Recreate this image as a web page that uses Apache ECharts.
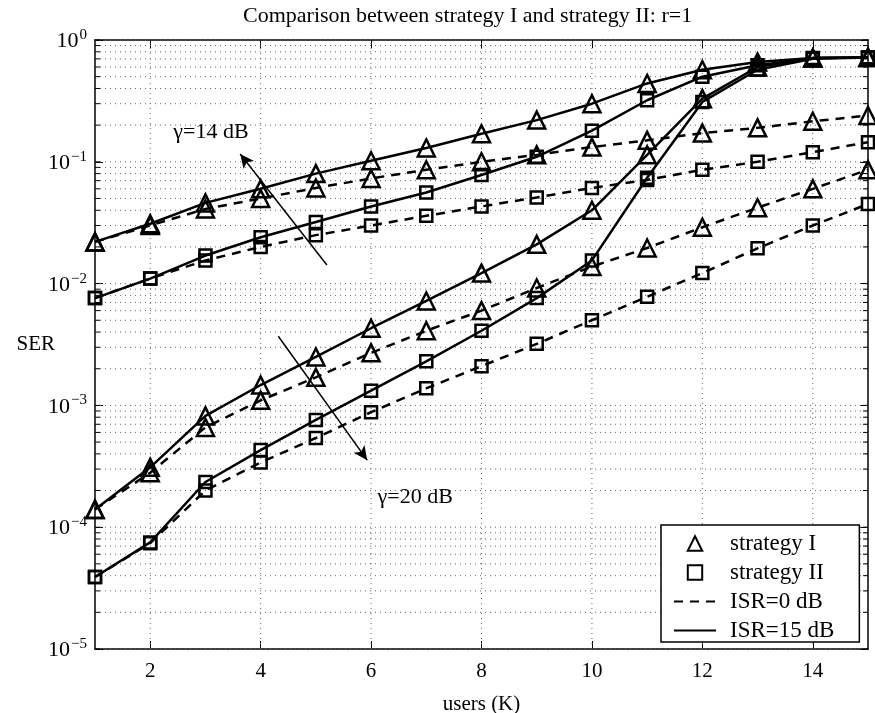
<!DOCTYPE html>
<html>
<head>
<meta charset="utf-8">
<script src="https://cdn.jsdelivr.net/npm/echarts@6/dist/echarts.min.js"></script>
<style>
html, body { margin: 0; padding: 0; background: #fff; }
#main { width: 875px; height: 713px; }
</style>
</head>
<body>
<div id="main"></div>
<script>
var users = [1, 2, 3, 4, 5, 6, 7, 8, 9, 10, 11, 12, 13, 14, 15];
var xTicks = [2, 4, 6, 8, 10, 12, 14];

// gamma = 14 dB
var s1g14isr15 = [0.022, 0.031, 0.046, 0.060, 0.080, 0.102, 0.130, 0.170, 0.220, 0.300, 0.44, 0.57, 0.66, 0.71, 0.72];
var s1g14isr0  = [0.022, 0.030, 0.041, 0.050, 0.061, 0.073, 0.086, 0.100, 0.114, 0.132, 0.150, 0.172, 0.190, 0.215, 0.240];
var s2g14isr15 = [0.0076, 0.011, 0.017, 0.024, 0.032, 0.043, 0.056, 0.078, 0.110, 0.180, 0.32, 0.50, 0.62, 0.71, 0.72];
var s2g14isr0  = [0.0076, 0.011, 0.0155, 0.020, 0.025, 0.030, 0.036, 0.043, 0.051, 0.061, 0.071, 0.086, 0.100, 0.120, 0.145];
// gamma = 20 dB
var s1g20isr15 = [1.4e-4, 3.1e-4, 8.2e-4, 1.47e-3, 2.5e-3, 4.3e-3, 7.2e-3, 0.0122, 0.021, 0.040, 0.114, 0.33, 0.60, 0.71, 0.72];
var s1g20isr0  = [1.4e-4, 2.8e-4, 6.6e-4, 1.1e-3, 1.7e-3, 2.7e-3, 4.1e-3, 6.0e-3, 9.2e-3, 0.0138, 0.0196, 0.029, 0.042, 0.060, 0.086];
var s2g20isr15 = [3.9e-5, 7.5e-5, 2.35e-4, 4.3e-4, 7.6e-4, 1.32e-3, 2.3e-3, 4.1e-3, 7.6e-3, 0.0155, 0.074, 0.31, 0.57, 0.70, 0.72];
var s2g20isr0  = [3.9e-5, 7.4e-5, 2.0e-4, 3.4e-4, 5.4e-4, 8.8e-4, 1.38e-3, 2.1e-3, 3.2e-3, 5.0e-3, 7.8e-3, 0.0122, 0.0195, 0.030, 0.045];

// annotation arrows, in data coords [tail, head]
var arrow14 = [[5.2, 0.0142], [3.63, 0.116]];
var arrow20 = [[4.32, 0.0037], [5.93, 3.55e-4]];
var label14 = [3.1, 0.175];
var label20 = [6.8, 1.75e-4];

var font = 'Liberation Serif';

// minor log grid values 2..9 x 10^k
var minorVals = [];
for (var k = -5; k < 0; k++) {
    for (var m = 2; m <= 9; m++) {
        minorVals.push([1, m * Math.pow(10, k)]);
    }
}
var majorVals = [[1, 1e-5], [1, 1e-4], [1, 1e-3], [1, 1e-2], [1, 1e-1], [1, 1]];

function pairs(ys) {
    return users.map(function (x, i) { return [x, ys[i]]; });
}

var markerStyle = { color: 'rgba(0,0,0,0)', borderColor: '#000', borderWidth: 2.5 };
var noMarker = { color: 'rgba(0,0,0,0)', borderWidth: 0 };

function curve(name, ys, tri, dashed) {
    return {
        name: name,
        type: 'line',
        data: pairs(ys),
        symbol: tri ? 'triangle' : 'rect',
        symbolSize: tri ? 17 : 12,
        showAllSymbol: true,
        clip: false,
        lineStyle: { color: '#000', width: 2.5, type: dashed ? [9, 7] : 'solid' },
        itemStyle: markerStyle,
        emphasis: { disabled: true },
        z: 3
    };
}

var myChart = echarts.init(document.getElementById('main'));

var option = {
    backgroundColor: '#fff',
    animation: false,
    title: {
        text: 'Comparison between strategy I and strategy II: r=1',
        left: 238,
        top: 0,
        textStyle: { fontFamily: font, fontSize: 22, fontWeight: 'normal', color: '#000' }
    },
    grid: { left: 95, right: 7, top: 40, bottom: 64, outerBoundsMode: 'none', containLabel: false },
    legend: {
        orient: 'vertical',
        left: 661,
        top: 525,
        backgroundColor: '#fff',
        borderColor: '#000',
        borderWidth: 1.5,
        borderRadius: 0,
        padding: [7, 25, 0, 12],
        itemWidth: 42,
        itemHeight: 18,
        itemGap: 6,
        textStyle: { fontFamily: font, fontSize: 23, color: '#000', padding: [0, 0, 0, 9] },
        data: ['strategy I', 'strategy II', 'ISR=0 dB', 'ISR=15 dB']
    },
    xAxis: [{
        type: 'value',
        min: 1,
        max: 15,
        name: 'users (K)',
        nameLocation: 'middle',
        nameGap: 45,
        nameTextStyle: { fontFamily: font, fontSize: 21, color: '#000' },
        axisLine: { lineStyle: { color: '#000', width: 1.5 } },
        axisTick: { inside: true, length: 8, customValues: xTicks, lineStyle: { color: '#000' } },
        axisLabel: { customValues: xTicks, fontFamily: font, fontSize: 21, color: '#000', margin: 12 },
        splitLine: { show: false }
    }, {
        type: 'value',
        position: 'top',
        min: 1,
        max: 15,
        axisLine: { lineStyle: { color: '#000', width: 1.5 } },
        axisTick: { inside: true, length: 8, customValues: xTicks, lineStyle: { color: '#000' } },
        axisLabel: { show: false },
        splitLine: { show: false }
    }],
    yAxis: [{
        type: 'log',
        logBase: 10,
        min: 1e-5,
        max: 1,
        name: 'SER',
        nameLocation: 'middle',
        nameRotate: 0,
        nameGap: 40,
        nameMoveOverlap: false,
        nameTextStyle: { fontFamily: font, fontSize: 21, color: '#000' },
        axisLine: { lineStyle: { color: '#000', width: 1.5 } },
        axisTick: { inside: true, length: 8, lineStyle: { color: '#000' } },
        axisLabel: {
            margin: 8,
            formatter: function (v) {
                var e = Math.round(Math.log10(v));
                return '{b|10}{s|' + (e < 0 ? '\u2212' + (-e) : e) + '}';
            },
            rich: {
                b: { fontFamily: font, fontSize: 22, color: '#000', verticalAlign: 'bottom' },
                s: { fontFamily: font, fontSize: 15, color: '#000', verticalAlign: 'top', padding: [0, 0, 10, 1] }
            }
        },
        splitLine: { show: false }
    }, {
        type: 'log',
        logBase: 10,
        position: 'right',
        min: 1e-5,
        max: 1,
        axisLine: { lineStyle: { color: '#000', width: 1.5 } },
        axisTick: { inside: true, length: 8, lineStyle: { color: '#000' } },
        axisLabel: { show: false },
        splitLine: { show: false }
    }],
    series: [
        // horizontal dotted grid + minor ticks
        {
            type: 'custom',
            silent: true,
            z: 1,
            data: minorVals.concat(majorVals),
            renderItem: function (params, api) {
                var v = api.value(1);
                var a = api.coord([1, v]);
                var b = api.coord([15, v]);
                return {
                    type: 'group',
                    children: [
                        { type: 'line', shape: { x1: a[0], y1: a[1], x2: b[0], y2: b[1] },
                          style: { stroke: '#666', lineWidth: 1, lineDash: [1, 4] } },
                        { type: 'line', shape: { x1: a[0], y1: a[1], x2: a[0] + 5, y2: a[1] },
                          style: { stroke: '#000', lineWidth: 1 } },
                        { type: 'line', shape: { x1: b[0] - 5, y1: b[1], x2: b[0], y2: b[1] },
                          style: { stroke: '#000', lineWidth: 1 } }
                    ]
                };
            }
        },
        // vertical dotted grid
        {
            type: 'custom',
            silent: true,
            z: 1,
            data: xTicks.map(function (x) { return [x, 1]; }),
            renderItem: function (params, api) {
                var x = api.value(0);
                var a = api.coord([x, 1e-5]);
                var b = api.coord([x, 1]);
                return { type: 'line', shape: { x1: a[0], y1: a[1], x2: b[0], y2: b[1] },
                         style: { stroke: '#666', lineWidth: 1, lineDash: [1, 4] } };
            }
        },
        curve('I g14 ISR15', s1g14isr15, true, false),
        curve('I g14 ISR0', s1g14isr0, true, true),
        curve('II g14 ISR15', s2g14isr15, false, false),
        curve('II g14 ISR0', s2g14isr0, false, true),
        curve('I g20 ISR15', s1g20isr15, true, false),
        curve('I g20 ISR0', s1g20isr0, true, true),
        curve('II g20 ISR15', s2g20isr15, false, false),
        curve('II g20 ISR0', s2g20isr0, false, true),
        // legend entries
        { name: 'strategy I', type: 'line', data: [], symbol: 'triangle', itemStyle: markerStyle, lineStyle: { color: '#000', opacity: 0 } },
        { name: 'strategy II', type: 'line', data: [], symbol: 'rect', itemStyle: markerStyle, lineStyle: { color: '#000', opacity: 0 } },
        { name: 'ISR=0 dB', type: 'line', data: [], symbol: 'none', itemStyle: noMarker, lineStyle: { color: '#000', width: 2.5, type: [9, 7] } },
        { name: 'ISR=15 dB', type: 'line', data: [], symbol: 'none', itemStyle: noMarker, lineStyle: { color: '#000', width: 2.5 } },
        // annotations
        {
            type: 'line',
            data: [],
            silent: true,
            markLine: {
                silent: true,
                symbol: ['none', 'arrow'],
                symbolSize: [10, 14],
                label: { show: false },
                lineStyle: { color: '#000', width: 1.5, type: 'solid' },
                emphasis: { disabled: true },
                data: [
                    [{ coord: arrow14[0] }, { coord: arrow14[1] }],
                    [{ coord: arrow20[0] }, { coord: arrow20[1] }]
                ]
            },
            markPoint: {
                silent: true,
                symbol: 'circle',
                symbolSize: 0,
                label: { show: true, position: 'inside', fontFamily: font, fontSize: 22, color: '#000' },
                data: [
                    { coord: label14, label: { formatter: '\u03b3=14 dB' } },
                    { coord: label20, label: { formatter: '\u03b3=20 dB' } }
                ]
            }
        }
    ]
};

myChart.setOption(option);
</script>
</body>
</html>
